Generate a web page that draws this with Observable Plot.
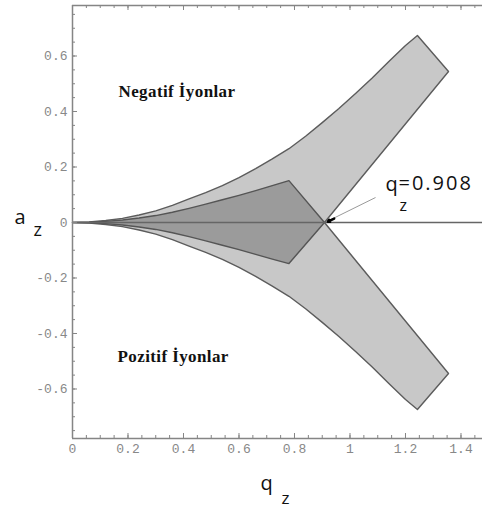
<!DOCTYPE html>
<html><head><meta charset="utf-8">
<script src="https://cdn.jsdelivr.net/npm/d3@7"></script>
<script src="https://cdn.jsdelivr.net/npm/@observablehq/plot@0.6"></script>
<style>body{margin:0;background:#fff;}</style>
</head><body><div id="chart"></div>
<script>
// Outer stability-band boundary (light gray), upper half; lower half mirrors it
const qOuter = [0, 0.06, 0.12, 0.18, 0.24, 0.30, 0.36, 0.42, 0.48, 0.54, 0.60, 0.66, 0.72, 0.78, 0.84, 0.90, 0.96, 1.02, 1.08, 1.14, 1.20, 1.243];
const aOuterUpper = [0, 0.002, 0.007, 0.015, 0.027, 0.042, 0.062, 0.085, 0.108, 0.133, 0.162, 0.194, 0.229, 0.266, 0.311, 0.360, 0.411, 0.465, 0.521, 0.580, 0.638, 0.674];
const aOuterLower = [0, -0.002, -0.007, -0.015, -0.027, -0.042, -0.062, -0.085, -0.108, -0.133, -0.162, -0.194, -0.229, -0.266, -0.311, -0.360, -0.411, -0.465, -0.521, -0.580, -0.638, -0.674];
// right-hand corners of the two bands
const qCorner = [1.355, 1.355];
const aCorner = [0.544, -0.544];
// crossing point on the q axis
const qCross = 0.908;
// overlap region (dark gray)
const qInner = [0, 0.06, 0.12, 0.18, 0.24, 0.30, 0.36, 0.42, 0.48, 0.54, 0.60, 0.66, 0.72, 0.78];
const aInnerUpper = [0, 0.001, 0.004, 0.009, 0.016, 0.025, 0.037, 0.051, 0.066, 0.082, 0.098, 0.115, 0.133, 0.151];
const aInnerLower = [0, -0.001, -0.004, -0.009, -0.016, -0.025, -0.037, -0.051, -0.066, -0.082, -0.098, -0.115, -0.132, -0.148];
// axis ticks
const xTicks = [0, 0.2, 0.4, 0.6, 0.8, 1, 1.2, 1.4];
const yTicks = [-0.6, -0.4, -0.2, 0, 0.2, 0.4, 0.6];
const xMinor = d3.range(0, 1.476, 0.05);
const yMinor = d3.range(-0.75, 0.78, 0.05);
const xDomain = [0, 1.4775];
const yDomain = [-0.7784, 0.782];
// callout
const calloutTail = [1.092, 0.09];
const labelNeg = "Negatif İyonlar";
const labelPos = "Pozitif İyonlar";

const lightPoly = [
  ...qOuter.map((q, i) => ({q, a: aOuterUpper[i]})),
  {q: qCorner[0], a: aCorner[0]},
  {q: qCross, a: 0},
  {q: qCorner[1], a: aCorner[1]},
  ...qOuter.map((q, i) => ({q, a: aOuterLower[i]})).reverse()
];
const darkPoly = [
  ...qInner.map((q, i) => ({q, a: aInnerUpper[i]})),
  {q: qCross, a: 0},
  ...qInner.map((q, i) => ({q, a: aInnerLower[i]})).reverse()
];
const cross = [{q: qCross, a: 0}];
const sans = "Open Sans";

const W = 482, H = 508;
const frameW = W - 72, frameH = H - 5 - 70;

const chart = Plot.plot({
  width: W, height: H,
  marginLeft: 72, marginRight: 0, marginTop: 5, marginBottom: 70,
  style: {fontFamily: "Liberation Mono", fontSize: "13px", color: "#888", background: "#fff"},
  x: {domain: xDomain, label: null},
  y: {domain: yDomain, label: null},
  marks: [
    Plot.line(lightPoly, {x: "q", y: "a", fill: "#c8c8c8", stroke: "#5c5c5c", strokeWidth: 1.4, curve: "linear"}),
    Plot.line(darkPoly, {x: "q", y: "a", fill: "#9b9b9b", stroke: "#555", strokeWidth: 1.4, curve: "linear"}),
    Plot.ruleY([0], {stroke: "#666", strokeWidth: 1.6}),
    // frame
    Plot.ruleX([xDomain[0]], {stroke: "#858585", strokeWidth: 1.5}),
    Plot.ruleY(yDomain, {stroke: "#858585", strokeWidth: 1.5}),
    // inward ticks
    Plot.ruleX(xMinor, {insetTop: frameH - 3, stroke: "#858585"}),
    Plot.ruleX(xMinor, {insetBottom: frameH - 3, stroke: "#858585"}),
    Plot.ruleX(xTicks, {insetTop: frameH - 5, stroke: "#858585"}),
    Plot.ruleX(xTicks, {insetBottom: frameH - 5, stroke: "#858585"}),
    Plot.ruleY(yMinor, {insetRight: frameW - 3, stroke: "#858585"}),
    Plot.ruleY(yTicks, {insetRight: frameW - 5, stroke: "#858585"}),
    Plot.axisX(xTicks, {tickSize: 0, tickPadding: 5, tickFormat: d => String(d), fill: "#888", label: null}),
    Plot.axisY(yTicks, {anchor: "left", tickSize: 0, tickPadding: 5, tickFormat: d => String(d), fill: "#888", label: null}),
    // region labels
    Plot.text([labelNeg], {text: d => d, frameAnchor: "top-left", dx: 46, dy: 91, textAnchor: "start", lineAnchor: "bottom",
      fontFamily: "Liberation Serif", fontWeight: "bold", fontSize: 17, fill: "#111"}),
    Plot.text([labelPos], {text: d => d, frameAnchor: "top-left", dx: 45, dy: 356, textAnchor: "start", lineAnchor: "bottom",
      fontFamily: "Liberation Serif", fontWeight: "bold", fontSize: 17, fill: "#111"}),
    // axis titles
    Plot.text(["a"], {text: d => d, frameAnchor: "left", dx: -58, dy: 2, textAnchor: "start", lineAnchor: "bottom",
      fontFamily: sans, fontSize: 20, fill: "#111"}),
    Plot.text(["z"], {text: d => d, frameAnchor: "left", dx: -39, dy: 14, textAnchor: "start", lineAnchor: "bottom",
      fontFamily: sans, fontSize: 18, fill: "#111"}),
    Plot.text(["q"], {text: d => d, frameAnchor: "bottom", dx: -17, dy: 51, textAnchor: "start", lineAnchor: "bottom",
      fontFamily: sans, fontSize: 20, fill: "#111"}),
    Plot.text(["z"], {text: d => d, frameAnchor: "bottom", dx: 4, dy: 65, textAnchor: "start", lineAnchor: "bottom",
      fontFamily: sans, fontSize: 17, fill: "#111"}),
    // callout
    Plot.link([0], {x1: () => calloutTail[0], y1: () => calloutTail[1], x2: () => qCross + 0.01, y2: () => 0.004, stroke: "#9a9a9a", strokeWidth: 1}),
    Plot.arrow([0], {x1: () => qCross + 0.035, y1: () => 0.014, x2: () => qCross + 0.012, y2: () => 0.003, stroke: "#000", strokeWidth: 2.5, headLength: 5}),
    Plot.text(cross, {x: "q", y: "a", text: () => "q", dx: 61, dy: -31, textAnchor: "start", lineAnchor: "bottom",
      fontFamily: sans, fontSize: 20, fill: "#111"}),
    Plot.text(cross, {x: "q", y: "a", text: () => "z", dx: 75, dy: -11, textAnchor: "start", lineAnchor: "bottom",
      fontFamily: sans, fontSize: 16, fill: "#111"}),
    Plot.text(cross, {x: "q", y: "a", text: d => "=" + d.q, dx: 74, dy: -32, textAnchor: "start", lineAnchor: "bottom",
      fontFamily: sans, fontSize: 20, fill: "#111"})
  ]
});
d3.select(chart).selectAll("text")
  .filter(function() { return this.textContent === "=" + qCross; })
  .attr("letter-spacing", "2px");
d3.select(chart).selectAll("text")
  .filter(function() { return this.textContent === labelNeg || this.textContent === labelPos; })
  .attr("letter-spacing", "0.4px");
document.getElementById("chart").appendChild(chart);
</script>
</body></html>
